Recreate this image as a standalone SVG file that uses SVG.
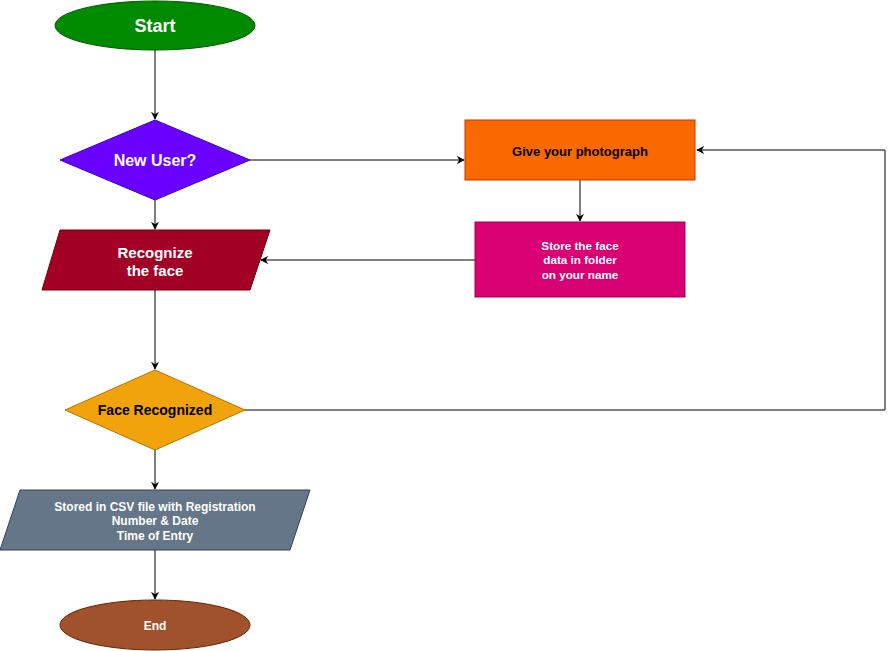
<svg xmlns="http://www.w3.org/2000/svg" width="894" height="651" viewBox="0 0 894 651">
<style>
text{font-family:"Liberation Sans",Arial,sans-serif;font-weight:bold;text-anchor:middle}
.w{fill:#ffffff}
.b{fill:#000000}
.edge{fill:none;stroke:#000000;stroke-width:1}
</style>
<defs>
<marker id="arr" viewBox="0 0 10 10" refX="9" refY="5" markerWidth="8" markerHeight="8" orient="auto" markerUnits="userSpaceOnUse">
<path d="M0,0 L10,5 L0,10 L3,5 Z" fill="#000000"/>
</marker>
</defs>
<rect width="894" height="651" fill="#ffffff"/>
<g id="connectors">
<path class="edge" d="M155,50 L155,119" marker-end="url(#arr)"/>
<path class="edge" d="M250,160 L464,160" marker-end="url(#arr)"/>
<path class="edge" d="M580,180 L580,221" marker-end="url(#arr)"/>
<path class="edge" d="M475,260 L261,260" marker-end="url(#arr)"/>
<path class="edge" d="M155,200 L155,229" marker-end="url(#arr)"/>
<path class="edge" d="M155,290 L155,369" marker-end="url(#arr)"/>
<path class="edge" d="M245,410 L885,410 L885,150 L697,150" marker-end="url(#arr)"/>
<path class="edge" d="M155,450 L155,489" marker-end="url(#arr)"/>
<path class="edge" d="M155,550 L155,599" marker-end="url(#arr)"/>
</g>
<g id="start">
<ellipse cx="155" cy="25.5" rx="100" ry="24.5" fill="#008a00" stroke="#005700"/>
<text class="w" x="155" y="32" font-size="18">Start</text>
</g>
<g id="newuser">
<polygon points="155,120 250,160 155,200 60,160" fill="#6a00ff" stroke="#3700cc"/>
<text class="w" x="155" y="166" font-size="16">New User?</text>
</g>
<g id="photo">
<rect x="465" y="120" width="230" height="60" fill="#fa6800" stroke="#c73500"/>
<text class="b" x="580" y="156" font-size="13">Give your photograph</text>
</g>
<g id="store">
<rect x="475" y="222" width="210" height="75" fill="#d80073" stroke="#a50040"/>
<text class="w" font-size="11.7"><tspan x="580" y="250">Store the face</tspan><tspan x="580" y="264">data in folder</tspan><tspan x="580" y="279">on your name</tspan></text>
</g>
<g id="recognize">
<polygon points="60,230 270,230 250,290 42,290" fill="#a20025" stroke="#6f0000"/>
<text class="w" font-size="15"><tspan x="155" y="258">Recognize</tspan><tspan x="155" y="276">the face</tspan></text>
</g>
<g id="facerecognized">
<polygon points="155,370 245,410 155,450 65,410" fill="#f0a30a" stroke="#bd7000"/>
<text class="b" x="155" y="415" font-size="14">Face Recognized</text>
</g>
<g id="stored">
<polygon points="20,490 310,490 290,550 0,550" fill="#647687" stroke="#314354"/>
<text class="w" font-size="12"><tspan x="155" y="511">Stored in CSV file with Registration</tspan><tspan x="155" y="525">Number &amp; Date</tspan><tspan x="155" y="540">Time of Entry</tspan></text>
</g>
<g id="end">
<ellipse cx="155" cy="625" rx="95" ry="25" fill="#a0522d" stroke="#6d1f00"/>
<text class="w" x="155" y="630" font-size="12">End</text>
</g>
</svg>
